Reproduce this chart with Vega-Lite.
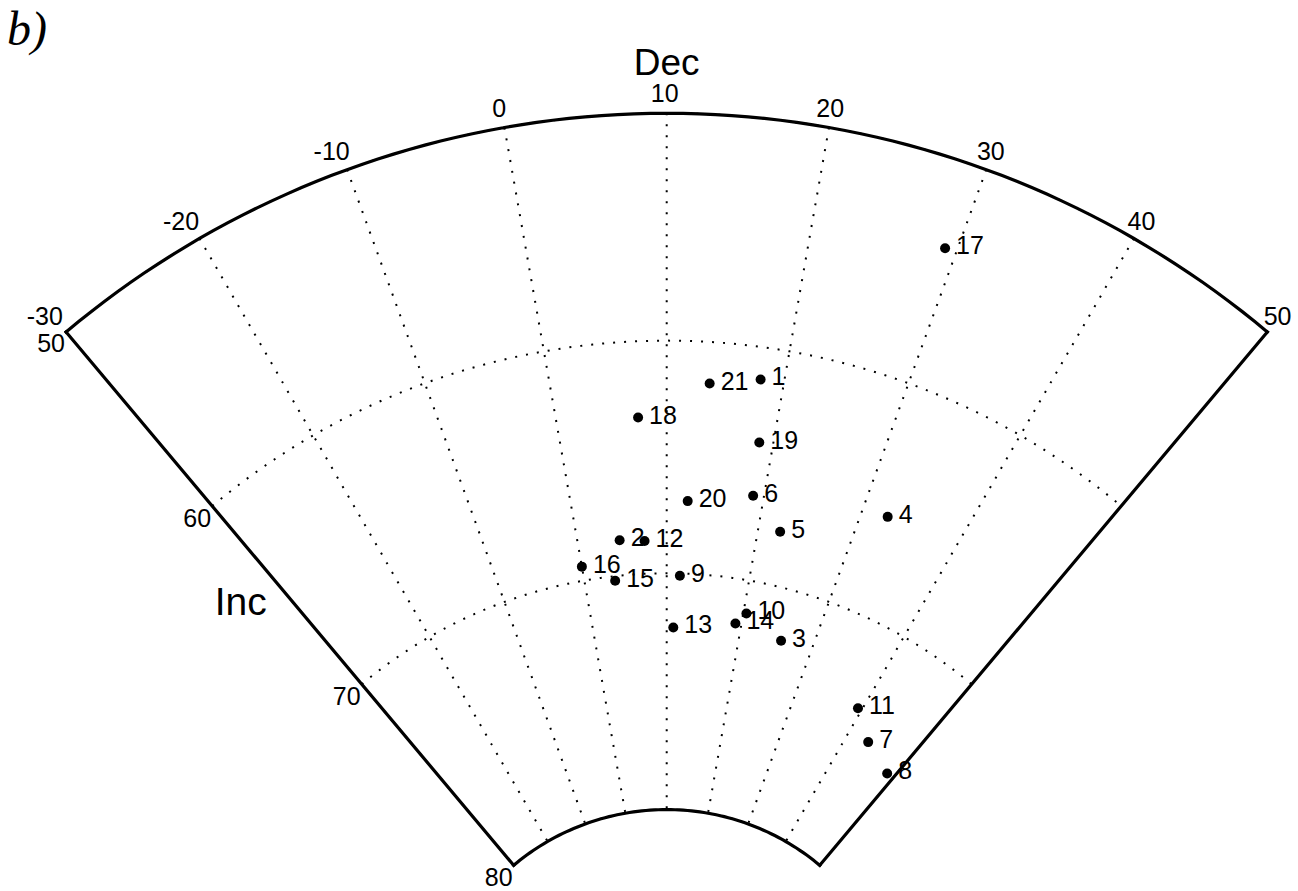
{
  "$schema": "https://vega.github.io/schema/vega-lite/v6.json",
  "width": 1298,
  "height": 891,
  "padding": 0,
  "autosize": "none",
  "background": "white",
  "config": {"view": {"stroke": null}, "text": {"font": "Liberation Sans", "color": "black"}},
  "projection": {
    "type": "azimuthalEqualArea",
    "scale": 1366,
    "translate": [666.7, 1047.7],
    "rotate": [170, -90, 0],
    "reflectX": true
  },
  "datasets": {
    "sites": [
      {"n": "1", "dec": 18.0, "inc": 61.4},
      {"n": "2", "dec": 4.7, "inc": 68.5},
      {"n": "3", "dec": 25.7, "inc": 72.2},
      {"n": "4", "dec": 32.6, "inc": 65.7},
      {"n": "5", "dec": 22.4, "inc": 67.7},
      {"n": "6", "dec": 18.9, "inc": 66.4},
      {"n": "7", "dec": 43.4, "inc": 74.6},
      {"n": "8", "dec": 48.8, "inc": 75.2},
      {"n": "9", "dec": 11.6, "inc": 70.1},
      {"n": "10", "dec": 20.4, "inc": 71.4},
      {"n": "11", "dec": 39.4, "inc": 73.6},
      {"n": "12", "dec": 7.5, "inc": 68.6},
      {"n": "13", "dec": 10.9, "inc": 72.3},
      {"n": "14", "dec": 19.2, "inc": 71.9},
      {"n": "15", "dec": 3.7, "inc": 70.2},
      {"n": "16", "dec": 0.0, "inc": 69.4},
      {"n": "17", "dec": 29.2, "inc": 53.9},
      {"n": "18", "dec": 7.4, "inc": 63.3},
      {"n": "19", "dec": 18.7, "inc": 64.1},
      {"n": "20", "dec": 12.2, "inc": 66.9},
      {"n": "21", "dec": 13.7, "inc": 61.8}
    ],
    "decTicks": [
      {"dec": -30}, {"dec": -20}, {"dec": -10}, {"dec": 0}, {"dec": 10},
      {"dec": 20}, {"dec": 30}, {"dec": 40}, {"dec": 50}
    ],
    "incTicks": [{"inc": 50}, {"inc": 60}, {"inc": 70}, {"inc": 80}]
  },
  "layer": [
    {
      "data": {"graticule": {"extentMajor": [[-30, 50], [50.001, 80.001]], "extentMinor": [[-30, 50], [50.001, 80.001]], "stepMajor": [90, 360], "stepMinor": [10, 10], "precision": 1}},
      "mark": {"type": "geoshape", "filled": false, "stroke": "black", "strokeWidth": 2, "strokeDash": [2, 9]}
    },
    {
      "data": {"graticule": {"extentMajor": [[-30, 50], [-29.99, 80]], "extentMinor": [[50, 50], [50.01, 80]], "stepMajor": [30, 360], "stepMinor": [10, 100], "precision": 1}},
      "mark": {"type": "geoshape", "filled": false, "stroke": "black", "strokeWidth": 3.2, "strokeCap": "square"}
    },
    {
      "data": {"graticule": {"extentMajor": [[-30, 50], [50, 50.01]], "extentMinor": [[-30, 80], [50, 80.01]], "stepMajor": [1000, 50], "stepMinor": [1000, 10], "precision": 1}},
      "mark": {"type": "geoshape", "filled": false, "stroke": "black", "strokeWidth": 3.2, "strokeCap": "square"}
    },
    {
      "data": {"name": "sites"},
      "mark": {"type": "circle", "size": 100, "color": "black", "opacity": 1},
      "encoding": {
        "longitude": {"field": "dec", "type": "quantitative"},
        "latitude": {"field": "inc", "type": "quantitative"}
      }
    },
    {
      "data": {"name": "sites"},
      "mark": {"type": "text", "align": "left", "baseline": "middle", "dx": 11, "dy": -2, "fontSize": 25},
      "encoding": {
        "longitude": {"field": "dec", "type": "quantitative"},
        "latitude": {"field": "inc", "type": "quantitative"},
        "text": {"field": "n", "type": "nominal"}
      }
    },
    {
      "data": {"name": "decTicks"},
      "transform": [{"filter": "datum.dec < 0"}],
      "mark": {"type": "text", "align": "center", "baseline": "middle", "dx": -9, "fontSize": 25},
      "encoding": {
        "longitude": {"field": "dec", "type": "quantitative"},
        "latitude": {"datum": 49.15},
        "text": {"field": "dec", "type": "nominal"}
      }
    },
    {
      "data": {"name": "decTicks"},
      "transform": [{"filter": "datum.dec >= 0"}],
      "mark": {"type": "text", "align": "center", "baseline": "middle", "dx": -2, "fontSize": 25},
      "encoding": {
        "longitude": {"field": "dec", "type": "quantitative"},
        "latitude": {"datum": 49.15},
        "text": {"field": "dec", "type": "nominal"}
      }
    },
    {
      "data": {"name": "incTicks"},
      "mark": {"type": "text", "align": "center", "baseline": "middle", "dx": -15, "dy": 12.5, "fontSize": 25},
      "encoding": {
        "longitude": {"datum": -30},
        "latitude": {"field": "inc", "type": "quantitative"},
        "text": {"field": "inc", "type": "nominal"}
      }
    },
    {
      "data": {"values": [{"label": "Dec"}]},
      "mark": {"type": "text", "align": "center", "baseline": "middle", "fontSize": 37},
      "encoding": {
        "longitude": {"datum": 10},
        "latitude": {"datum": 47.8},
        "text": {"field": "label", "type": "nominal"}
      }
    },
    {
      "data": {"values": [{"label": "Inc"}]},
      "mark": {"type": "text", "align": "center", "baseline": "middle", "fontSize": 39},
      "encoding": {
        "longitude": {"datum": -33.77},
        "latitude": {"datum": 63.95},
        "text": {"field": "label", "type": "nominal"}
      }
    },
    {
      "data": {"values": [{"label": "b)"}]},
      "mark": {"type": "text", "align": "left", "baseline": "alphabetic", "fontSize": 48, "font": "Liberation Serif", "fontStyle": "italic"},
      "encoding": {
        "longitude": {"datum": -23.34},
        "latitude": {"datum": 37.88},
        "text": {"field": "label", "type": "nominal"}
      }
    }
  ]
}
